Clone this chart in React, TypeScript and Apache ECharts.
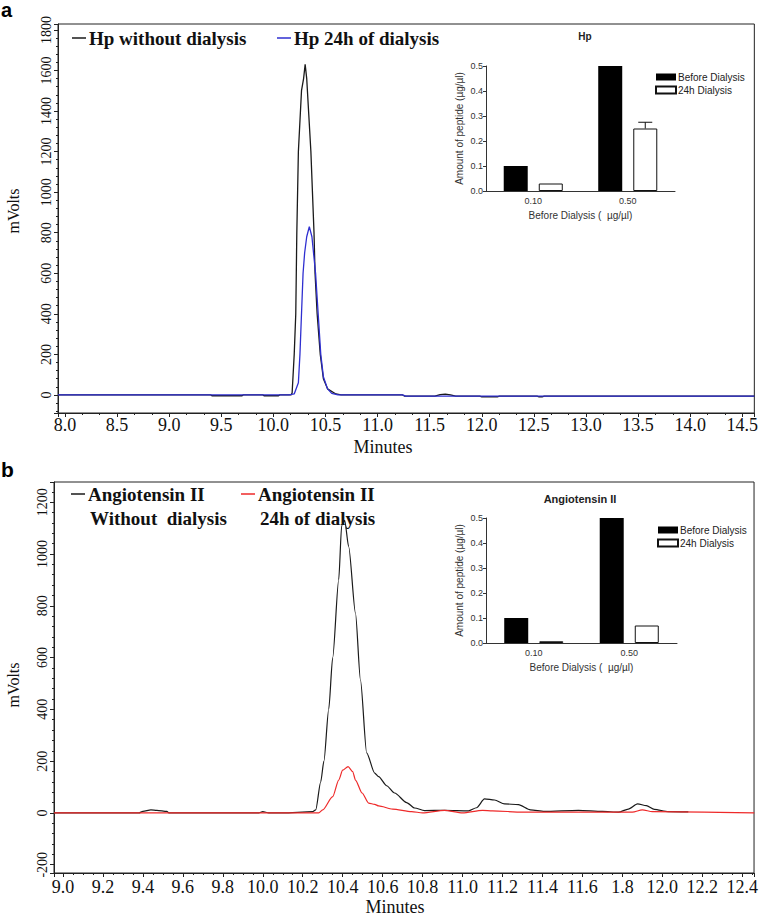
import React, { useEffect, useRef } from "react";
import * as echarts from "echarts";

// ---------- Panel a : chromatogram ----------
const xTickValuesA = [8.0, 8.5, 9.0, 9.5, 10.0, 10.5, 11.0, 11.5, 12.0, 12.5, 13.0, 13.5, 14.0, 14.5];
const xTickLabelsA = ["8.0", "8.5", "9.0", "9.5", "10.0", "10.5", "11.0", "11.5", "12.0", "12.5", "13.0", "13.5", "14.0", "14.5"];

const timesABlack = [7.933, 9.40, 9.41, 9.70, 9.71, 9.90, 9.91, 10.05, 10.06, 10.17, 10.18, 10.20, 10.215, 10.22, 10.225, 10.24, 10.27, 10.29, 10.305, 10.32, 10.34, 10.36, 10.39, 10.40, 10.42, 10.45, 10.48, 10.52, 10.60, 10.65, 11.24, 11.26, 11.55, 11.60, 11.65, 11.70, 11.75, 11.98, 12.0, 12.15, 12.17, 12.53, 12.55, 12.58, 12.60, 14.616];
const valuesABlack = [0, 0, -4, -4, 0, 0, -4, -4, 0, 0, 10, 200, 400, 600, 800, 1200, 1500, 1560, 1630, 1560, 1380, 1200, 800, 600, 400, 200, 80, 30, 5, 0, 0, -6, -6, 2, 4, 0, -6, -6, -9, -9, -6, -6, -9, -9, -6, -6];

const timesABlue = [7.933, 10.15, 10.20, 10.24, 10.255, 10.27, 10.285, 10.30, 10.32, 10.345, 10.37, 10.405, 10.43, 10.455, 10.48, 10.52, 10.56, 10.62, 11.24, 11.27, 14.616];
const valuesABlue = [0, 0, 5, 60, 200, 400, 600, 700, 780, 830, 780, 600, 400, 200, 90, 30, 8, 0, 0, -6, -6];

// ---------- Panel b : chromatogram ----------
const xTickValuesB = [9.0, 9.2, 9.4, 9.6, 9.8, 10.0, 10.2, 10.4, 10.6, 10.8, 11.0, 11.2, 11.4, 11.6, 11.8, 12.0, 12.2, 12.4];
const xTickLabelsB = ["9.0", "9.2", "9.4", "9.6", "9.8", "10.0", "10.2", "10.4", "10.6", "10.8", "11.0", "11.2", "11.4", "11.6", "1.8", "12.0", "12.2", "12.4"];

const timesBBlack = [8.955, 9.38, 9.40, 9.44, 9.47, 9.52, 9.53, 9.98, 10.0, 10.03, 10.1, 10.25, 10.265, 10.29, 10.306, 10.33, 10.35, 10.38, 10.395, 10.41, 10.43, 10.464, 10.489, 10.52, 10.56, 10.58, 10.62, 10.66, 10.72, 10.76, 10.81, 10.91, 11.03, 11.07, 11.11, 11.16, 11.21, 11.28, 11.34, 11.41, 11.58, 11.70, 11.78, 11.83, 11.876, 11.92, 11.96, 12.03, 12.13];
const valuesBBlack = [0, 0, 6, 12, 10, 6, 0, 0, 5, 0, 0, 5, 12, 120, 200, 400, 600, 900, 1110, 1130, 1028, 772, 513, 232, 154, 140, 105, 77, 40, 19, 9, 10, 8, 20, 54, 50, 35, 32, 12, 6, 10, 6, 3, 15, 35, 28, 14, 5, 4];

const timesBRed = [8.955, 10.28, 10.30, 10.35, 10.38, 10.40, 10.427, 10.45, 10.464, 10.497, 10.53, 10.56, 10.58, 10.65, 10.745, 10.8, 10.91, 11.0, 11.1, 11.15, 11.3, 11.85, 11.9, 11.95, 12.46];
const valuesBRed = [0, 0, 12, 63, 127, 165, 179, 160, 127, 77, 38, 33, 27, 15, 5, 0, 10, 0, 10, 8, 3, 3, 12, 5, 0];

// ---------- Insets ----------
const insetCategories = ["0.10", "0.50"];
const hpBefore = [0.1, 0.5];
const hpAfter = [0.03, 0.25];
const hpAfterErr = [0, 0.025];
const angBefore = [0.1, 0.5];
const angAfter = [0.007, 0.07];

const serif = "Liberation Serif";
const sans = "Liberation Sans";
const ink = "#222";

function zip(xs: number[], ys: number[]) {
  return xs.map((x, i) => [x, ys[i]]);
}
function labelFrom(values: number[], labels: string[]) {
  return (v: number) => {
    const i = values.findIndex((t) => Math.abs(t - v) < 1e-6);
    return i >= 0 ? labels[i] : "";
  };
}

function errorSeries(xIdx: number, after: number[], err: number[]) {
  const data = after
    .map((v, i) => [i, v, v + err[i]])
    .filter((d, i) => err[i] > 0);
  return {
    type: "custom",
    xAxisIndex: xIdx,
    yAxisIndex: xIdx,
    data,
    encode: { x: 0, y: [1, 2] },
    z: 5,
    renderItem: (params: any, api: any) => {
      const lo = api.coord([api.value(0), api.value(1)]);
      const hi = api.coord([api.value(0), api.value(2)]);
      const x = lo[0] + 17.5;
      return {
        type: "group",
        children: [
          { type: "line", shape: { x1: x, y1: lo[1], x2: x, y2: hi[1] }, style: { stroke: "#111", lineWidth: 1 } },
          { type: "line", shape: { x1: x - 7, y1: hi[1], x2: x + 7, y2: hi[1] }, style: { stroke: "#111", lineWidth: 1 } },
        ],
      };
    },
  };
}

function mainXAxis(grid: number, min: number, max: number, split: number, fmt: (v: number) => string, minorSplit: number, margin: number) {
  return {
    type: "value",
    gridIndex: grid,
    min,
    max,
    splitNumber: split,
    axisLine: { show: true, onZero: false, lineStyle: { color: ink, width: 1 } },
    axisTick: { show: true, length: 4, lineStyle: { color: ink } },
    minorTick: { show: true, splitNumber: minorSplit, length: 2, lineStyle: { color: ink } },
    splitLine: { show: false },
    axisLabel: {
      showMinLabel: false,
      showMaxLabel: false,
      formatter: fmt,
      fontFamily: serif,
      fontSize: 18,
      color: "#111",
      margin,
    },
  };
}
function mainYAxis(grid: number, min: number, max: number, split: number) {
  return {
    type: "value",
    gridIndex: grid,
    min,
    max,
    splitNumber: split,
    axisLine: { show: true, onZero: false, lineStyle: { color: ink, width: 1 } },
    axisTick: { show: true, length: 4, lineStyle: { color: ink } },
    minorTick: { show: true, splitNumber: 5, length: 2, lineStyle: { color: ink } },
    splitLine: { show: false },
    axisLabel: {
      showMinLabel: false,
      showMaxLabel: false,
      rotate: 90,
      fontFamily: serif,
      fontSize: 14,
      color: "#111",
      margin: 5,
      formatter: (v: number) => String(v),
    },
  };
}
function insetXAxis(grid: number) {
  return {
    type: "category",
    gridIndex: grid,
    data: insetCategories,
    axisLine: { show: true, lineStyle: { color: "#333" } },
    axisTick: { show: false },
    axisLabel: { fontFamily: sans, fontSize: 9, color: "#333", margin: 5 },
    name: "Before Dialysis (  µg/µl)",
    nameLocation: "middle",
    nameGap: 19,
    nameTextStyle: { fontFamily: sans, fontSize: 10, color: "#333" },
  };
}
function insetYAxis(grid: number) {
  return {
    type: "value",
    gridIndex: grid,
    min: 0,
    max: 0.5,
    interval: 0.1,
    axisLine: { show: true, lineStyle: { color: "#333" } },
    axisTick: { show: true, length: 3, lineStyle: { color: "#333" } },
    splitLine: { show: false },
    axisLabel: { fontFamily: sans, fontSize: 9, color: "#333", margin: 3, formatter: (v: number) => v.toFixed(1) },
    name: "Amount of peptide (µg/µl)",
    nameLocation: "middle",
    nameGap: 22,
    nameRotate: 90,
    nameTextStyle: { fontFamily: sans, fontSize: 10, color: "#333" },
  };
}
function barPair(grid: number, before: number[], after: number[]) {
  return [
    {
      type: "bar",
      name: "Before Dialysis",
      xAxisIndex: grid,
      yAxisIndex: grid,
      data: before,
      barWidth: 24,
      barGap: "46%",
      itemStyle: { color: "#000" },
    },
    {
      type: "bar",
      name: "24h Dialysis",
      xAxisIndex: grid,
      yAxisIndex: grid,
      data: after,
      barWidth: 24,
      barGap: "46%",
      itemStyle: { color: "#fff", borderColor: "#111", borderWidth: 1 },
    },
  ];
}
function insetLegend(left: number, top: number) {
  return {
    data: ["Before Dialysis", "24h Dialysis"],
    orient: "vertical",
    left,
    top,
    itemWidth: 20,
    itemHeight: 7,
    itemGap: 3,
    icon: "rect",
    selectedMode: false,
    padding: 0,
    textStyle: { fontFamily: sans, fontSize: 10, color: "#222", padding: [0, 0, 0, -3] },
  };
}

function legendItem(x: number, y: number, color: string, lines: string[]) {
  const els: any[] = [
    { type: "line", shape: { x1: x, y1: y, x2: x + 14, y2: y }, style: { stroke: color, lineWidth: 1.5 } },
  ];
  lines.forEach((t, i) => {
    els.push({
      type: "text",
      x: x + 17 + (i > 0 ? 2 : 0),
      y: y + i * 24,
      style: { text: t, font: `bold 19px "${serif}"`, fill: "#111", verticalAlign: "middle" },
    });
  });
  return els;
}

const smoothB = { smooth: 0.25, smoothMonotone: "x" };

const option: any = {
  animation: false,
  backgroundColor: "#fff",
  grid: [
    { left: 58, top: 24, width: 699, height: 389, show: true, borderColor: ink, borderWidth: 1, containLabel: false },
    { left: 486, top: 66, width: 189, height: 125, show: false, containLabel: false },
    { left: 54, top: 482, width: 703, height: 391, show: true, borderColor: ink, borderWidth: 1, containLabel: false },
    { left: 486, top: 518, width: 191, height: 125, show: false, containLabel: false },
  ],
  xAxis: [
    mainXAxis(0, 7.933, 14.616, 13, labelFrom(xTickValuesA, xTickLabelsA), 3, 3),
    insetXAxis(1),
    mainXAxis(2, 8.955, 12.459, 17, labelFrom(xTickValuesB, xTickLabelsB), 4, 5),
    insetXAxis(3),
  ],
  yAxis: [mainYAxis(0, -89, 1829, 9), insetYAxis(1), mainYAxis(2, -232, 1278, 7), insetYAxis(3)],
  legend: [insetLegend(655, 72), insetLegend(657, 525)],
  series: [
    {
      type: "line",
      name: "Hp without dialysis",
      xAxisIndex: 0,
      yAxisIndex: 0,
      data: zip(timesABlack, valuesABlack),
      showSymbol: false,
      lineStyle: { color: "#1a1a1a", width: 1.3 },
      itemStyle: { color: "#1a1a1a" },
      z: 2,
    },
    {
      type: "line",
      name: "Hp 24h of dialysis",
      xAxisIndex: 0,
      yAxisIndex: 0,
      data: zip(timesABlue, valuesABlue),
      showSymbol: false,
      lineStyle: { color: "#2f2fd0", width: 1.3 },
      itemStyle: { color: "#2f2fd0" },
      z: 3,
    },
    ...barPair(1, hpBefore, hpAfter),
    errorSeries(1, hpAfter, hpAfterErr),
    {
      type: "line",
      name: "Angiotensin II Without dialysis",
      xAxisIndex: 2,
      yAxisIndex: 2,
      data: zip(timesBBlack, valuesBBlack),
      showSymbol: false,
      ...smoothB,
      lineStyle: { color: "#1a1a1a", width: 1.2 },
      itemStyle: { color: "#1a1a1a" },
      z: 2,
    },
    {
      type: "line",
      name: "Angiotensin II 24h of dialysis",
      xAxisIndex: 2,
      yAxisIndex: 2,
      data: zip(timesBRed, valuesBRed),
      showSymbol: false,
      ...smoothB,
      lineStyle: { color: "#ee2a2a", width: 1.2 },
      itemStyle: { color: "#ee2a2a" },
      z: 3,
    },
    ...barPair(3, angBefore, angAfter),
  ],
  graphic: [
    { type: "text", x: 1, y: 0, style: { text: "a", font: `bold 20px "${sans}"`, fill: "#000", verticalAlign: "top" } },
    { type: "text", x: 1, y: 469, style: { text: "b", font: `bold 21px "${sans}"`, fill: "#000", verticalAlign: "middle" } },
    ...legendItem(72, 38, "#1a1a1a", ["Hp without dialysis"]),
    ...legendItem(277, 38, "#2f2fd0", ["Hp 24h of dialysis"]),
    ...legendItem(71, 494, "#1a1a1a", ["Angiotensin II", "Without  dialysis"]),
    ...legendItem(241, 494, "#ee2a2a", ["Angiotensin II", "24h of dialysis"]),
    { type: "text", x: 585, y: 36, style: { text: "Hp", font: `bold 10px "${sans}"`, fill: "#222", align: "center", verticalAlign: "middle" } },
    { type: "text", x: 580, y: 499, style: { text: "Angiotensin II", font: `bold 11px "${sans}"`, fill: "#222", align: "center", verticalAlign: "middle" } },
    { type: "text", x: 383, y: 447, style: { text: "Minutes", font: `18px "${serif}"`, fill: "#111", align: "center", verticalAlign: "middle" } },
    { type: "text", x: 395, y: 907, style: { text: "Minutes", font: `18px "${serif}"`, fill: "#111", align: "center", verticalAlign: "middle" } },
    { type: "text", x: 13, y: 211, rotation: Math.PI / 2, style: { text: "mVolts", font: `16px "${serif}"`, fill: "#111", align: "center", verticalAlign: "middle" } },
    { type: "text", x: 13, y: 685, rotation: Math.PI / 2, style: { text: "mVolts", font: `16px "${serif}"`, fill: "#111", align: "center", verticalAlign: "middle" } },
  ],
};

export default function App() {
  const ref = useRef<HTMLDivElement>(null);
  useEffect(() => {
    const chart = echarts.init(ref.current!, null, { renderer: "svg" });
    chart.setOption(option);
    return () => chart.dispose();
  }, []);
  return <div ref={ref} style={{ position: "absolute", left: 0, top: 0, width: 761, height: 917 }} />;
}
